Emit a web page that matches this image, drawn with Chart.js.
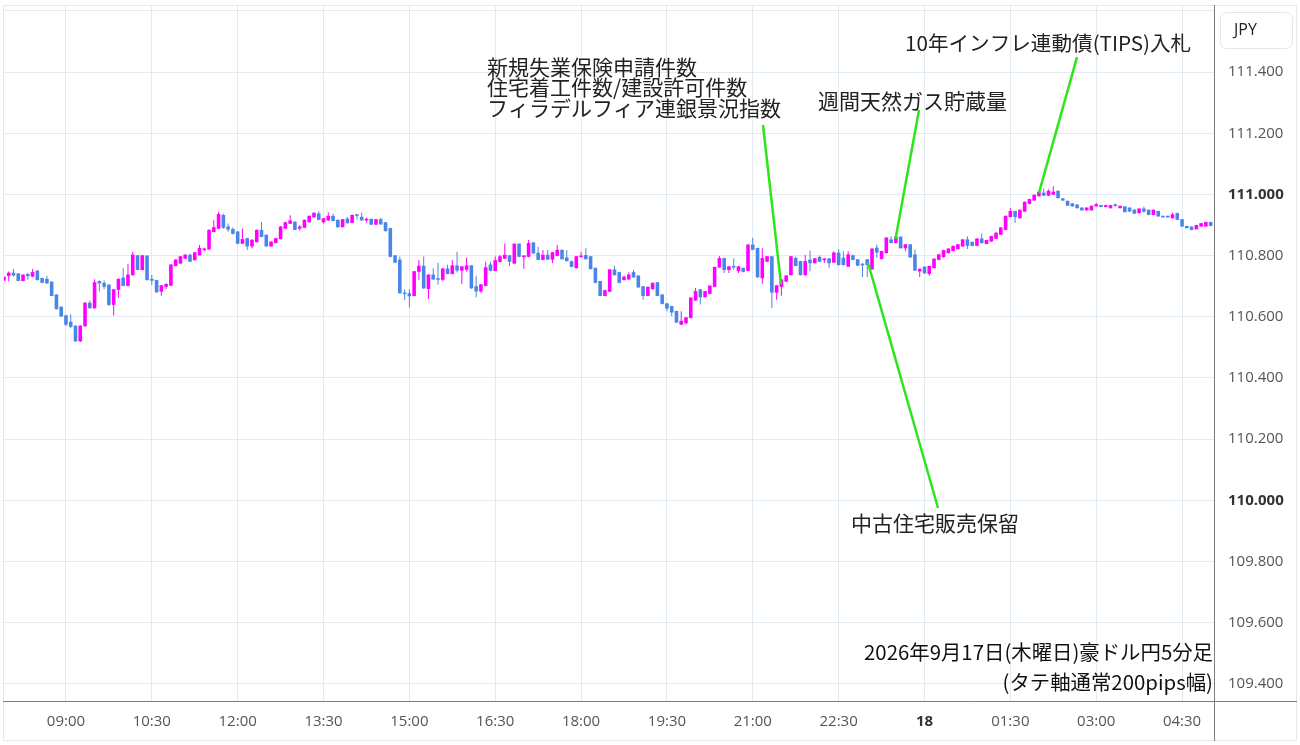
<!DOCTYPE html>
<html lang="ja">
<head>
<meta charset="utf-8">
<title>豪ドル円 5分足</title>
<script src="https://cdn.jsdelivr.net/npm/chart.js@4.4.1/dist/chart.umd.min.js"></script>
<style>
  html, body { margin: 0; padding: 0; background: #fff; }
  #wrap { position: relative; width: 1300px; height: 745px; }
</style>
</head>
<body>
<div id="wrap"><canvas id="audjpy"></canvas></div>
<script>
// AUD/JPY 5-minute candles, first candle at 07:55
const firstCandleTime = "07:55";

const opens = [
  110.719,110.734,110.743,110.741,110.718,110.739,110.732,110.750,110.726,110.723,
  110.714,110.672,110.632,110.604,110.583,110.570,110.521,110.570,110.645,110.629,
  110.716,110.710,110.704,110.640,110.689,110.727,110.702,110.737,110.800,110.754,
  110.799,110.723,110.719,110.683,110.699,110.703,110.767,110.775,110.791,110.802,
  110.786,110.802,110.819,110.821,110.878,110.889,110.932,110.894,110.886,110.878,
  110.840,110.856,110.831,110.845,110.883,110.867,110.831,110.842,110.855,110.889,
  110.905,110.910,110.889,110.892,110.910,110.926,110.937,110.910,110.916,110.929,
  110.916,110.894,110.920,110.908,110.933,110.926,110.916,110.919,110.902,110.918,
  110.908,110.889,110.800,110.786,110.677,110.676,110.669,110.748,110.766,110.692,
  110.737,110.724,110.722,110.757,110.741,110.767,110.752,110.755,110.767,110.699,
  110.684,110.702,110.770,110.751,110.780,110.791,110.800,110.775,110.838,110.796,
  110.797,110.842,110.808,110.787,110.802,110.788,110.800,110.818,110.793,110.781,
  110.760,110.796,110.801,110.797,110.759,110.716,110.669,110.683,110.754,110.745,
  110.721,110.723,110.745,110.734,110.699,110.669,110.691,110.712,110.672,110.643,
  110.634,110.618,110.575,110.580,110.597,110.654,110.689,110.665,110.676,110.699,
  110.762,110.791,110.754,110.763,110.750,110.759,110.751,110.835,110.824,110.727,
  110.781,110.797,110.680,110.699,110.716,110.737,110.791,110.781,110.737,110.786,
  110.776,110.795,110.786,110.790,110.778,110.809,110.792,110.765,110.800,110.787,
  110.771,110.787,110.756,110.825,110.790,110.809,110.852,110.842,110.861,110.825,
  110.836,110.803,110.749,110.763,110.741,110.760,110.787,110.796,110.809,110.816,
  110.822,110.831,110.852,110.844,110.833,110.855,110.839,110.847,110.856,110.869,
  110.885,110.927,110.945,110.923,110.945,110.970,110.981,110.995,111.005,110.997,
  111.000,111.011,110.986,110.978,110.970,110.966,110.956,110.949,110.949,110.962,
  110.964,110.960,110.956,110.965,110.956,110.960,110.956,110.949,110.940,110.953,
  110.949,110.934,110.945,110.928,110.928,110.923,110.938,110.918,110.896,110.894,
  110.887,110.896,110.896,110.909
];
const highs = [
  110.731,110.748,110.756,110.742,110.738,110.743,110.756,110.752,110.728,110.734,
  110.716,110.674,110.634,110.606,110.608,110.572,110.572,110.648,110.653,110.723,
  110.719,110.719,110.706,110.690,110.725,110.759,110.773,110.813,110.802,110.802,
  110.801,110.737,110.721,110.704,110.710,110.772,110.788,110.799,110.805,110.806,
  110.812,110.835,110.826,110.886,110.916,110.943,110.937,110.905,110.892,110.880,
  110.889,110.858,110.853,110.886,110.910,110.869,110.847,110.858,110.897,110.911,
  110.932,110.912,110.899,110.918,110.931,110.942,110.945,110.923,110.942,110.937,
  110.918,110.920,110.926,110.934,110.935,110.940,110.924,110.921,110.920,110.924,
  110.910,110.891,110.802,110.797,110.689,110.690,110.750,110.786,110.797,110.739,
  110.759,110.777,110.759,110.770,110.786,110.813,110.766,110.794,110.769,110.734,
  110.707,110.780,110.780,110.797,110.802,110.840,110.802,110.840,110.840,110.802,
  110.851,110.844,110.829,110.818,110.818,110.812,110.835,110.820,110.818,110.783,
  110.799,110.813,110.824,110.799,110.761,110.718,110.688,110.756,110.767,110.747,
  110.734,110.745,110.754,110.736,110.701,110.699,110.712,110.714,110.674,110.645,
  110.636,110.620,110.618,110.599,110.664,110.694,110.691,110.685,110.703,110.764,
  110.799,110.793,110.766,110.791,110.766,110.761,110.837,110.858,110.826,110.824,
  110.799,110.799,110.704,110.723,110.736,110.799,110.797,110.783,110.802,110.817,
  110.792,110.800,110.792,110.792,110.814,110.822,110.814,110.814,110.803,110.789,
  110.776,110.789,110.824,110.836,110.816,110.860,110.863,110.866,110.863,110.838,
  110.838,110.820,110.758,110.765,110.767,110.791,110.805,110.819,110.824,110.833,
  110.838,110.854,110.863,110.846,110.857,110.872,110.852,110.865,110.876,110.893,
  110.931,110.956,110.947,110.951,110.977,110.986,111.000,111.010,111.019,111.016,
  111.027,111.013,110.988,110.980,110.972,110.968,110.958,110.958,110.964,110.973,
  110.966,110.966,110.966,110.970,110.964,110.962,110.958,110.953,110.955,110.960,
  110.951,110.951,110.947,110.930,110.930,110.940,110.940,110.920,110.898,110.896,
  110.901,110.907,110.911,110.911
];
const lows = [
  110.716,110.716,110.732,110.717,110.716,110.721,110.730,110.719,110.710,110.708,
  110.667,110.624,110.600,110.570,110.563,110.518,110.518,110.568,110.627,110.626,
  110.683,110.690,110.635,110.604,110.662,110.700,110.700,110.735,110.752,110.752,
  110.719,110.705,110.679,110.669,110.691,110.701,110.765,110.773,110.789,110.779,
  110.784,110.800,110.815,110.819,110.876,110.887,110.888,110.878,110.869,110.837,
  110.838,110.818,110.824,110.843,110.860,110.829,110.829,110.840,110.853,110.887,
  110.903,110.883,110.881,110.890,110.908,110.924,110.916,110.905,110.914,110.912,
  110.890,110.892,110.905,110.906,110.918,110.914,110.908,110.900,110.900,110.901,
  110.879,110.795,110.775,110.676,110.655,110.630,110.667,110.721,110.692,110.658,
  110.721,110.705,110.716,110.739,110.738,110.745,110.707,110.748,110.692,110.664,
  110.678,110.700,110.749,110.749,110.778,110.789,110.766,110.773,110.795,110.757,
  110.795,110.806,110.785,110.785,110.786,110.775,110.798,110.787,110.781,110.762,
  110.758,110.794,110.787,110.755,110.710,110.667,110.667,110.681,110.735,110.710,
  110.719,110.721,110.728,110.695,110.656,110.667,110.689,110.667,110.640,110.618,
  110.602,110.580,110.573,110.575,110.595,110.652,110.640,110.663,110.674,110.697,
  110.760,110.743,110.743,110.754,110.743,110.746,110.749,110.818,110.728,110.708,
  110.779,110.629,110.656,110.669,110.714,110.735,110.765,110.735,110.735,110.749,
  110.774,110.779,110.776,110.760,110.776,110.768,110.768,110.763,110.785,110.766,
  110.730,110.730,110.754,110.792,110.787,110.807,110.840,110.840,110.823,110.814,
  110.793,110.750,110.730,110.741,110.734,110.758,110.785,110.794,110.807,110.814,
  110.820,110.829,110.822,110.831,110.831,110.840,110.837,110.845,110.854,110.867,
  110.883,110.925,110.907,110.921,110.943,110.968,110.979,110.993,110.995,110.995,
  110.998,110.987,110.979,110.962,110.960,110.954,110.947,110.947,110.947,110.960,
  110.958,110.958,110.954,110.960,110.954,110.941,110.943,110.936,110.938,110.940,
  110.932,110.932,110.927,110.924,110.924,110.921,110.916,110.894,110.889,110.883,
  110.885,110.894,110.894,110.896
];
const closes = [
  110.730,110.743,110.736,110.718,110.737,110.734,110.745,110.721,110.712,110.710,
  110.669,110.626,110.602,110.575,110.568,110.521,110.570,110.645,110.629,110.712,
  110.710,110.699,110.640,110.689,110.723,110.702,110.737,110.802,110.754,110.800,
  110.721,110.719,110.681,110.702,110.706,110.770,110.786,110.797,110.802,110.781,
  110.810,110.824,110.822,110.883,110.892,110.935,110.892,110.886,110.872,110.840,
  110.853,110.831,110.851,110.883,110.862,110.831,110.845,110.856,110.894,110.908,
  110.914,110.885,110.894,110.916,110.929,110.939,110.918,110.921,110.929,110.914,
  110.894,110.918,110.907,110.932,110.931,110.916,110.918,110.902,110.918,110.903,
  110.881,110.797,110.778,110.678,110.675,110.668,110.748,110.766,110.694,110.737,
  110.723,110.722,110.757,110.741,110.767,110.752,110.764,110.767,110.694,110.684,
  110.705,110.761,110.751,110.784,110.797,110.802,110.781,110.838,110.797,110.798,
  110.840,110.808,110.787,110.802,110.788,110.810,110.818,110.789,110.783,110.764,
  110.797,110.798,110.789,110.757,110.712,110.669,110.686,110.754,110.737,110.712,
  110.730,110.737,110.730,110.697,110.669,110.697,110.710,110.669,110.643,110.628,
  110.615,110.582,110.586,110.597,110.662,110.683,110.665,110.683,110.701,110.762,
  110.791,110.754,110.764,110.762,110.764,110.748,110.835,110.820,110.730,110.791,
  110.797,110.680,110.702,110.721,110.734,110.797,110.767,110.737,110.781,110.776,
  110.790,110.781,110.788,110.776,110.809,110.770,110.770,110.803,110.787,110.768,
  110.769,110.770,110.822,110.811,110.814,110.858,110.842,110.861,110.825,110.836,
  110.795,110.752,110.756,110.743,110.765,110.789,110.803,110.817,110.822,110.831,
  110.836,110.852,110.833,110.833,110.855,110.842,110.850,110.863,110.874,110.891,
  110.929,110.945,110.927,110.949,110.975,110.984,110.998,111.008,110.997,111.011,
  111.008,110.989,110.981,110.964,110.962,110.956,110.949,110.956,110.962,110.967,
  110.960,110.964,110.964,110.963,110.962,110.943,110.945,110.938,110.953,110.945,
  110.934,110.949,110.929,110.926,110.926,110.934,110.918,110.896,110.891,110.885,
  110.899,110.905,110.909,110.898
];

// axis ticks
const priceTicks = [109.4, 109.6, 109.8, 110.0, 110.2, 110.4, 110.6, 110.8, 111.0, 111.2, 111.4, 111.6];
const timeTickTimes = ["09:00", "10:30", "12:00", "13:30", "15:00", "16:30", "18:00", "19:30", "21:00", "22:30", "00:00", "01:30", "03:00", "04:30"];
const timeTickLabels = ["09:00", "10:30", "12:00", "13:30", "15:00", "16:30", "18:00", "19:30", "21:00", "22:30", "18", "01:30", "03:00", "04:30"];

// event notes: text anchor and pointer line, in (candle index, price)
const notes = [
  { text: ["新規失業保険申請件数", "住宅着工件数/建設許可件数", "フィラデルフィア連銀景況指数"],
    at: [101.27, 111.417], from: [159.14, 111.227], to: [162.92, 110.707] },
  { text: ["週間天然ガス貯蔵量"], at: [170.68, 111.305], from: [191.85, 111.276], to: [186.92, 110.854] },
  { text: ["10年インフレ連動債(TIPS)入札"], at: [188.92, 111.495], from: [224.98, 111.449], to: [217.0, 111.005] },
  { text: ["中古住宅販売保留"], at: [177.59, 109.926], from: [181.16, 110.776], to: [195.84, 109.975] }
];
const caption = ["2026年9月17日(木曜日)豪ドル円5分足", "(タテ軸通常200pips幅)"];
const currency = "JPY";

const UP = "#ff00ff";
const DOWN = "#4a86e8";

function toMin(t) {
  const p = t.split(":");
  return +p[0] * 60 + +p[1];
}
const tickIndex = timeTickTimes.map(t => ((toMin(t) - toMin(firstCandleTime) + 1440) % 1440) / 5);

const candleColors = closes.map((c, i) => c >= opens[i] ? UP : DOWN);
const wickData = closes.map((c, i) => ({ x: i, y: [lows[i], highs[i]] }));
const bodyData = closes.map((c, i) => ({ x: i, y: [opens[i], c] }));

const isWhole = v => Math.abs(v - Math.round(v)) < 1e-6;

const overlay = {
  id: "overlay",
  afterDatasetsDraw(chart) {
    const { ctx, chartArea: a, scales: { x, y } } = chart;
    ctx.save();
    ctx.strokeStyle = "#2ee51c";
    ctx.lineWidth = 2.5;
    notes.forEach(n => {
      ctx.beginPath();
      ctx.moveTo(x.getPixelForValue(n.from[0]), y.getPixelForValue(n.from[1]));
      ctx.lineTo(x.getPixelForValue(n.to[0]), y.getPixelForValue(n.to[1]));
      ctx.stroke();
    });
    ctx.fillStyle = "#222";
    ctx.textBaseline = "middle";
    ctx.textAlign = "left";
    notes.forEach(n => {
      const tx = x.getPixelForValue(n.at[0]);
      const ty = y.getPixelForValue(n.at[1]);
      // the latin-digit note runs a touch narrower in the original
      ctx.font = /[0-9A-Z]/.test(n.text[0]) ? '20.6px "Noto Sans CJK JP"' : '21px "Noto Sans CJK JP"';
      n.text.forEach((t, k) => ctx.fillText(t, tx, ty + k * 20.5));
    });
    ctx.font = '20.4px "Noto Sans CJK JP"';
    ctx.fillStyle = "#111";
    ctx.textAlign = "right";
    caption.forEach((t, k) => ctx.fillText(t, a.right - 1, a.bottom - 49 + k * 30));
    ctx.restore();
  },
  afterDraw(chart) {
    const { ctx, chartArea: a, width, height } = chart;
    ctx.save();
    // outer frame
    ctx.strokeStyle = "#e8e8e8";
    ctx.lineWidth = 1;
    ctx.strokeRect(3.5, 5.5, width - 7, height - 10);
    // pane separators
    ctx.strokeStyle = "#7d7d7d";
    ctx.beginPath();
    ctx.moveTo(Math.round(a.right) + 0.5, 5);
    ctx.lineTo(Math.round(a.right) + 0.5, height - 4);
    ctx.moveTo(3, Math.round(a.bottom) + 0.5);
    ctx.lineTo(width - 3, Math.round(a.bottom) + 0.5);
    ctx.stroke();
    // currency box
    ctx.strokeStyle = "#e6e6e6";
    ctx.fillStyle = "#fff";
    ctx.beginPath();
    if (ctx.roundRect) ctx.roundRect(1220.5, 12.5, 72, 36, 6);
    else ctx.rect(1220.5, 12.5, 72, 36);
    ctx.fill();
    ctx.stroke();
    ctx.fillStyle = "#222";
    ctx.font = '16px "Open Sans"';
    ctx.textBaseline = "middle";
    ctx.fillText(currency, 1234, 30.5);
    ctx.restore();
  }
};

new Chart(document.getElementById("audjpy"), {
  type: "bar",
  data: {
    datasets: [
      {
        label: "wick",
        data: wickData,
        backgroundColor: candleColors,
        barThickness: 1,
        grouped: false,
        inflateAmount: 0
      },
      {
        label: "body",
        data: bodyData,
        backgroundColor: candleColors,
        barThickness: 3,
        minBarLength: 1,
        grouped: false,
        inflateAmount: 0.3
      }
    ]
  },
  options: {
    responsive: true,
    maintainAspectRatio: false,
    animation: false,
    layout: { padding: { left: 3, top: 6, right: 0, bottom: 0 } },
    plugins: {
      legend: { display: false },
      tooltip: { enabled: false }
    },
    events: [],
    scales: {
      x: {
        type: "linear",
        min: -0.2,
        max: 253.7,
        offset: false,
        grid: { color: "#e3ebf2", offset: false, drawTicks: false },
        border: { display: false },
        afterBuildTicks: s => { s.ticks = tickIndex.map(v => ({ value: v })); },
        afterFit: s => { s.height = 44; s.paddingLeft = 0; s.paddingRight = 0; },
        ticks: {
          autoSkip: false,
          maxRotation: 0,
          padding: 12,
          font: ctx => ({ family: "Open Sans", size: 15, weight: timeTickLabels[ctx.index] === "18" ? "bold" : "normal" }),
          color: ctx => timeTickLabels[ctx.index] === "18" ? "#333" : "#555",
          callback: (v, i) => timeTickLabels[i]
        }
      },
      y: {
        position: "right",
        min: 109.344,
        max: 111.616,
        beginAtZero: false,
        grid: { color: "#e3ebf2", drawTicks: false },
        border: { display: false },
        afterBuildTicks: s => { s.ticks = priceTicks.map(v => ({ value: v })); },
        afterFit: s => { s.width = 86; s.paddingTop = 0; s.paddingBottom = 0; },
        ticks: {
          padding: 14,
          font: ctx => ({ family: "Open Sans", size: 15, weight: ctx.tick && isWhole(ctx.tick.value) ? "bold" : "normal" }),
          color: ctx => ctx.tick && isWhole(ctx.tick.value) ? "#333" : "#555",
          callback: v => v > 111.5 ? "" : v.toFixed(3)
        }
      }
    }
  },
  plugins: [overlay]
});
</script>
</body>
</html>
